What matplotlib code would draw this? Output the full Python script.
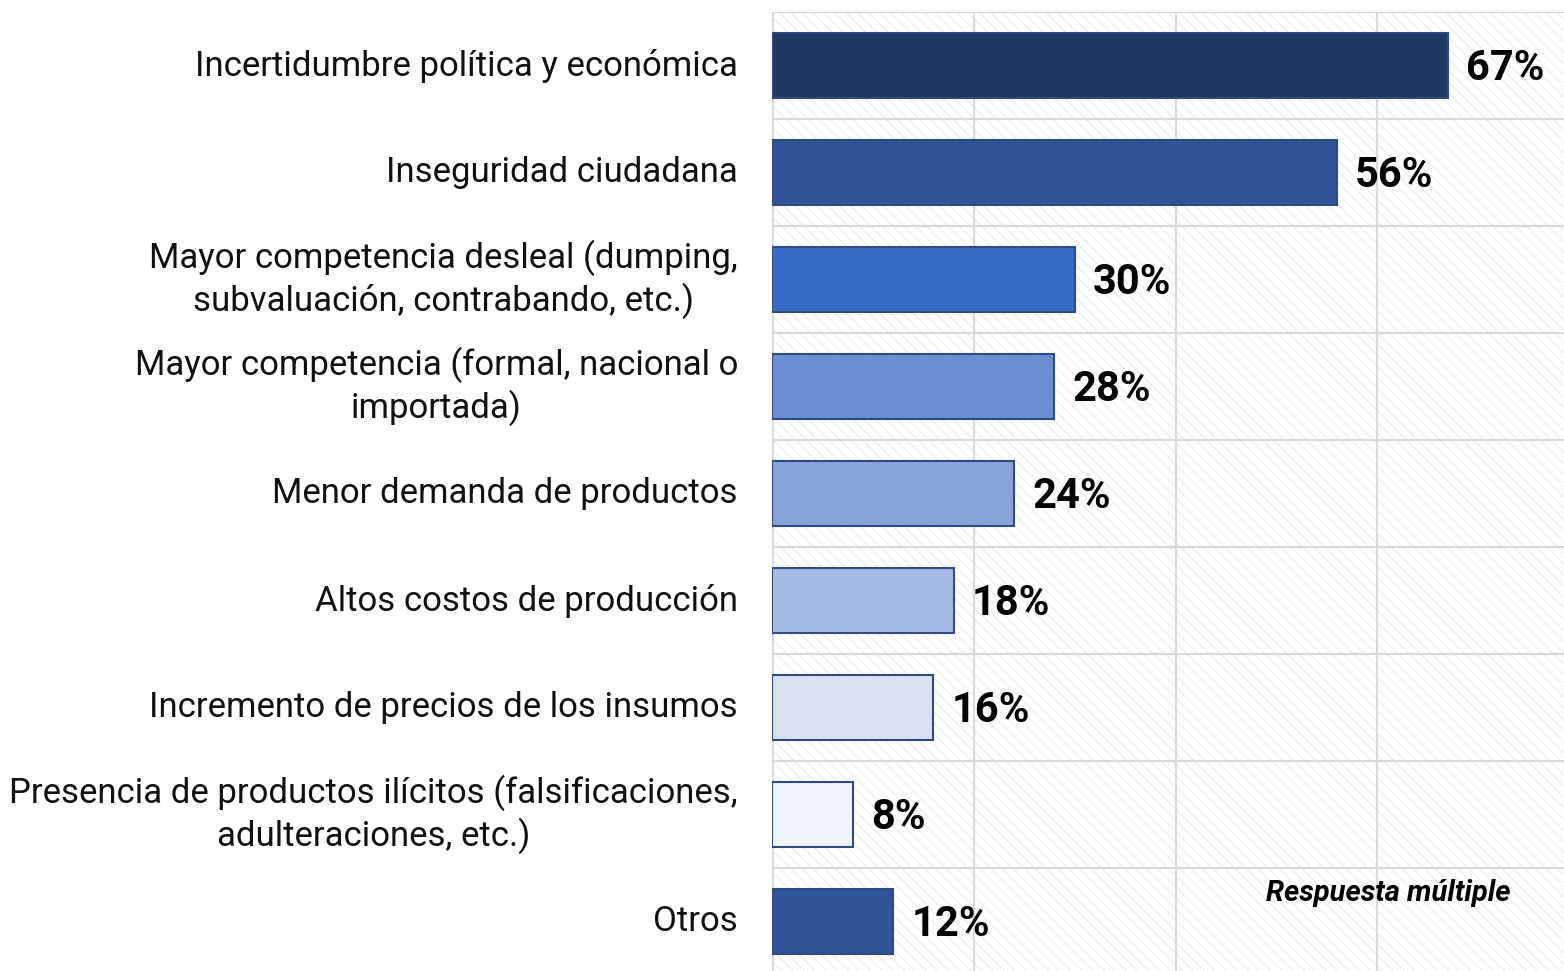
import matplotlib
matplotlib.use("Agg")
import matplotlib.pyplot as plt
from matplotlib.patches import Rectangle
import numpy as np

categories = [
    "Incertidumbre política y económica",
    "Inseguridad ciudadana",
    "Mayor competencia desleal (dumping,\nsubvaluación, contrabando, etc.)",
    "Mayor competencia (formal, nacional o\nimportada)",
    "Menor demanda de productos",
    "Altos costos de producción",
    "Incremento de precios de los insumos",
    "Presencia de productos ilícitos (falsificaciones,\nadulteraciones, etc.)",
    "Otros",
]
values = [67, 56, 30, 28, 24, 18, 16, 8, 12]
bar_colors = ["#203864", "#2F5597", "#3A6BC4", "#6A8FD2", "#87A4D9",
              "#A5BBE3", "#D9E1F2", "#EEF3FB", "#2F5597"]
note = "Respuesta múltiple"

plt.rcParams['font.family'] = ['Roboto', 'DejaVu Sans']
plt.rcParams['hatch.linewidth'] = 1.0

W, H = 1564, 971
fig = plt.figure(figsize=(W / 100, H / 100), dpi=100)
ax = fig.add_axes([772 / W, -4 / H, 1 - 772 / W, 963 / H])

n = len(categories)
y = np.arange(n)

# hatched background
bg = Rectangle((0, 0), 1, 1, transform=ax.transAxes, facecolor="white",
               edgecolor="#efefef", hatch="\\\\\\", linewidth=0, zorder=0)
ax.add_patch(bg)
ax.set_facecolor("white")

ax.barh(y, values, height=0.6, color=bar_colors, edgecolor="#2E4B82",
        linewidth=1.5, zorder=3)
for yi, v in zip(y, values):
    ax.text(v + 1.8, yi + 0.03, f"{v}%", va="center", ha="left",
            fontsize=30, fontweight="bold", color="black", zorder=4)

ax.set_xlim(0, 78.5)
ax.set_ylim(n - 0.5, -0.5)
ax.set_xticks([0, 20, 40, 60])
ax.set_yticks(np.arange(-0.5, n, 1.0), minor=False)
ax.set_yticklabels([])
ax.grid(True, color="#d9d9d9", linewidth=1.5, zorder=1)
ax.tick_params(axis="both", length=0, labelbottom=False, labelleft=False)
for s in ax.spines.values():
    s.set_visible(False)
ax.axhline(-0.5, color="#d9d9d9", linewidth=1.5, zorder=1)
ax.axvline(0, color="#d9d9d9", linewidth=2, zorder=2)

for yi, lab in zip(y, categories):
    ax.text(-34 / (W - 772) * 78.5, yi, lab, ha="right", va="center",
            multialignment="center", fontsize=25, linespacing=1.25,
            color="#111111", transform=ax.transData, clip_on=False)

ax.text(0.624, 0.085, note, transform=ax.transAxes, ha="left", va="center",
        fontsize=21, fontweight="bold", fontstyle="italic", color="black", zorder=5)

fig.savefig("out.png", dpi=100)
